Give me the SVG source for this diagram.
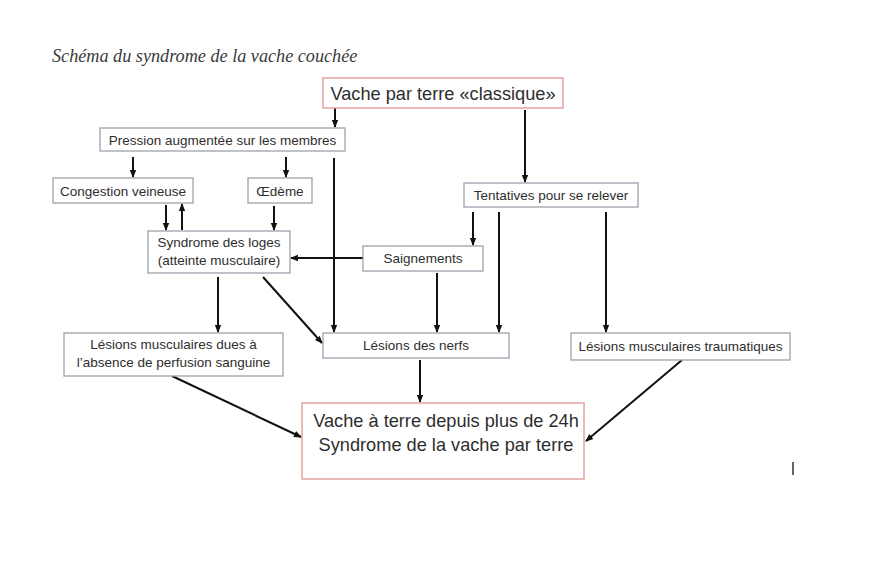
<svg xmlns="http://www.w3.org/2000/svg" width="872" height="582" viewBox="0 0 872 582">
<style>
.box{fill:#fff;stroke:#9aa3ad;stroke-width:1.3}
.red{fill:#fff;stroke:#e6a3a3;stroke-width:1.5}
.t{font-family:"Liberation Sans",Arial,sans-serif;fill:#2e2e2e;text-anchor:middle}
.s{font-size:13.5px}
.l{font-size:18.2px}
.c{fill:none;stroke:#111;stroke-width:2}
</style>
<defs>
<marker id="ah" markerUnits="userSpaceOnUse" markerWidth="8" markerHeight="8" viewBox="0 0 8 8" refX="7" refY="4" orient="auto">
<path d="M0,0.8 L8,4 L0,7.2 Z" fill="#111"/>
</marker>
</defs>
<rect width="872" height="582" fill="#fff"/>
<text x="52" y="62" font-family="'Liberation Serif','Times New Roman',serif" font-style="italic" font-size="18.2" fill="#3a3a3a">Schéma du syndrome de la vache couchée</text>

<g id="connectors">
<path class="c" d="M335 108 V127" marker-end="url(#ah)"/>
<path class="c" d="M133 157 V177" marker-end="url(#ah)"/>
<path class="c" d="M286 157 V177" marker-end="url(#ah)"/>
<path class="c" d="M334 158 V332" marker-end="url(#ah)"/>
<path class="c" d="M525 110 V182" marker-end="url(#ah)"/>
<path class="c" d="M166 205 V230" marker-end="url(#ah)"/>
<path class="c" d="M182 230 V204" marker-end="url(#ah)"/>
<path class="c" d="M274 206 V230" marker-end="url(#ah)"/>
<path class="c" d="M473 212 V245" marker-end="url(#ah)"/>
<path class="c" d="M499 212 V332" marker-end="url(#ah)"/>
<path class="c" d="M606 212 V332" marker-end="url(#ah)"/>
<path class="c" d="M363 258 H291" marker-end="url(#ah)"/>
<path class="c" d="M437 273 V332" marker-end="url(#ah)"/>
<path class="c" d="M218 277 V332" marker-end="url(#ah)"/>
<path class="c" d="M263 277 L322 343" marker-end="url(#ah)"/>
<path class="c" d="M420 360 V402" marker-end="url(#ah)"/>
<path class="c" d="M172 376 L301 437" marker-end="url(#ah)"/>
<path class="c" d="M682 360 L586 441" marker-end="url(#ah)"/>
</g>

<g id="n-vache">
<rect class="red" x="323" y="78" width="240" height="30"/>
<text class="t l" x="443" y="100">Vache par terre «classique»</text>
</g>
<g id="n-pression">
<rect class="box" x="100" y="128" width="245" height="23"/>
<text class="t s" x="222.5" y="145">Pression augmentée sur les membres</text>
</g>
<g id="n-congestion">
<rect class="box" x="53" y="178" width="140" height="25"/>
<text class="t s" x="123" y="195.5">Congestion veineuse</text>
</g>
<g id="n-oedeme">
<rect class="box" x="248" y="178" width="64" height="25"/>
<text class="t s" x="280" y="195.5">Œdème</text>
</g>
<g id="n-tentatives">
<rect class="box" x="464" y="183" width="174" height="24"/>
<text class="t s" x="551" y="200">Tentatives pour se relever</text>
</g>
<g id="n-syndrome-loges">
<rect class="box" x="148" y="231" width="142" height="42"/>
<text class="t s" x="219" y="247">Syndrome des loges</text>
<text class="t s" x="219" y="265">(atteinte musculaire)</text>
</g>
<g id="n-saignements">
<rect class="box" x="363" y="246" width="120" height="25"/>
<text class="t s" x="423" y="263">Saignements</text>
</g>
<g id="n-lesions-perfusion">
<rect class="box" x="64" y="333" width="219" height="43"/>
<text class="t s" x="173.5" y="349">Lésions musculaires dues à</text>
<text class="t s" x="173.5" y="367">l’absence de perfusion sanguine</text>
</g>
<g id="n-lesions-nerfs">
<rect class="box" x="323" y="333" width="186" height="25"/>
<text class="t s" x="416" y="350">Lésions des nerfs</text>
</g>
<g id="n-lesions-trauma">
<rect class="box" x="571" y="333" width="219" height="27"/>
<text class="t s" x="680.5" y="351">Lésions musculaires traumatiques</text>
</g>
<g id="n-final">
<rect class="red" x="302" y="403" width="282" height="76"/>
<text class="t l" x="446" y="427">Vache à terre depuis plus de 24h</text>
<text class="t l" x="446" y="451">Syndrome de la vache par terre</text>
</g>
<line x1="793" y1="462" x2="793" y2="475" stroke="#000" stroke-width="1.2"/>
</svg>
